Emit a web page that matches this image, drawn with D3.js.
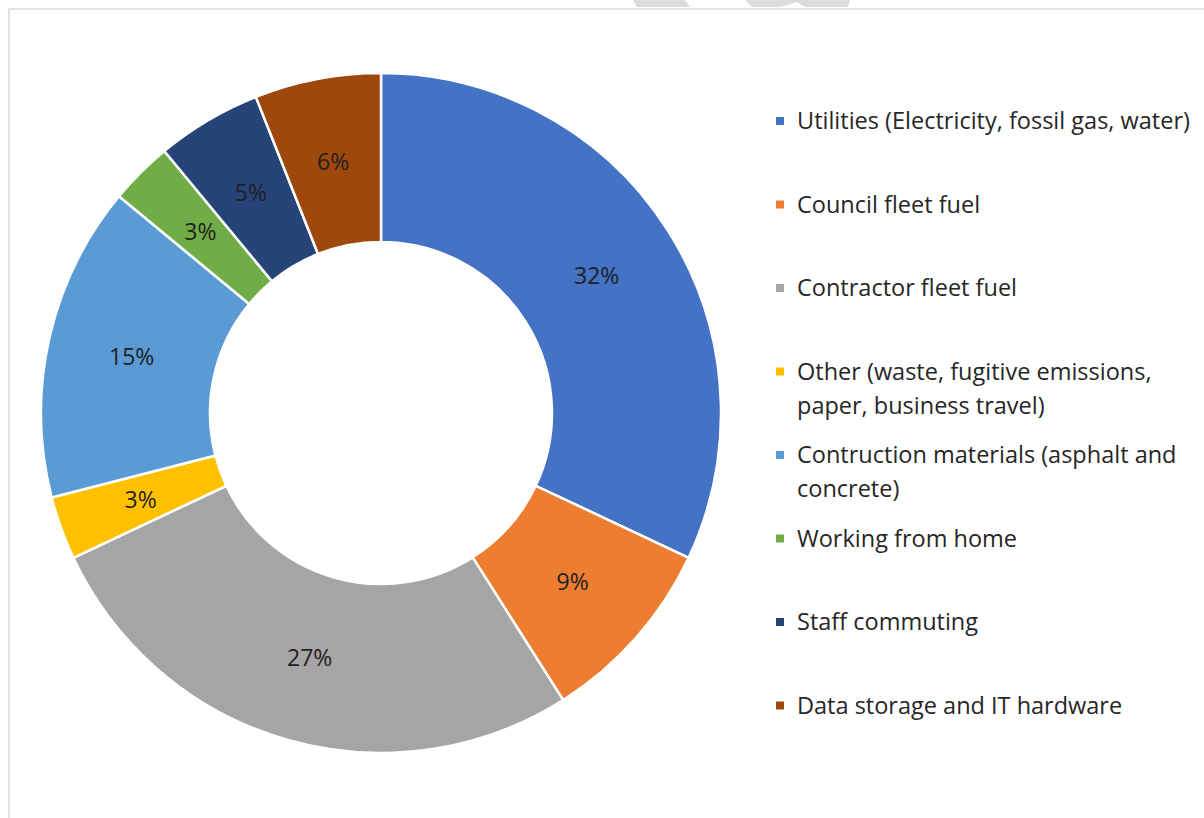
<!DOCTYPE html>
<html>
<head>
<meta charset="utf-8">
<script src="https://cdn.jsdelivr.net/npm/d3@7"></script>
<style>
  body { margin: 0; background: #fff; }
  svg { display: block; font-family: "Open Sans", "Noto Sans", sans-serif; }
</style>
</head>
<body>
<div id="chart"></div>
<script>
// data
const categories = [
  "Utilities (Electricity, fossil gas, water)",
  "Council fleet fuel",
  "Contractor fleet fuel",
  "Other (waste, fugitive emissions, paper, business travel)",
  "Contruction materials (asphalt and concrete)",
  "Working from home",
  "Staff commuting",
  "Data storage and IT hardware"
]
const shares = [32, 9, 27, 3, 15, 3, 5, 6]
const colors = ["#4472C4", "#ED7D31", "#A5A5A5", "#FFC000", "#5B9BD5", "#70AD47", "#264478", "#9E480E"]

const width = 1204, height = 818
const cx = 381, cy = 413, outerR = 340, innerR = 171

const svg = d3.select("#chart")
  .append("svg")
  .attr("width", width)
  .attr("height", height)

// frame of the chart area (only left and top edges visible)
svg.append("path")
  .attr("d", `M9,${height} L9,9 L${width},9`)
  .attr("fill", "none")
  .attr("stroke", "#d9d9d9")
  .attr("stroke-width", 1.5)

// faint watermark bits peeking in at the top
const mark = svg.append("g").attr("fill", "#dcdcdc")
mark.append("path").attr("d", "M633,0 L685,0 L690,7 L637,7 Z")
mark.append("path").attr("d", "M745,0 L850,0 L848,7 L805,7 L797,2 L780,7 L752,7 Z")

// donut
const pie = d3.pie().sort(null).value(d => d)
const arcs = pie(shares)
const arc = d3.arc().innerRadius(innerR).outerRadius(outerR)

const g = svg.append("g").attr("transform", `translate(${cx},${cy})`)

g.selectAll("path.slice")
  .data(arcs)
  .join("path")
  .attr("class", "slice")
  .attr("d", arc)
  .attr("fill", (d, i) => colors[i])
  .attr("stroke", "#fff")
  .attr("stroke-width", 2.5)

g.selectAll("text.pct")
  .data(arcs)
  .join("text")
  .attr("class", "pct")
  .attr("transform", d => `translate(${arc.centroid(d)})`)
  .attr("text-anchor", "middle")
  .attr("dy", "0.35em")
  .attr("fill", "#1f1f1f")
  .style("font-size", "23px")
  .text(d => d.data + "%")

// legend
const legendX = 776, textX = 797, firstY = 121, step = 83.5, lineH = 34, maxW = 420
const legend = svg.append("g")

categories.forEach((name, i) => {
  const y = firstY + i * step
  legend.append("rect")
    .attr("x", legendX)
    .attr("y", y - 4)
    .attr("width", 8)
    .attr("height", 8)
    .attr("fill", colors[i])

  const t = legend.append("text")
    .attr("x", textX)
    .attr("y", y)
    .attr("dy", "0.35em")
    .attr("fill", "#262626")
    .style("font-size", "23.5px")

  // wrap long labels
  const words = name.split(" ")
  let line = [], tspan = t.append("tspan").attr("x", textX)
  words.forEach(w => {
    line.push(w)
    tspan.text(line.join(" "))
    if (tspan.node().getComputedTextLength() > maxW && line.length > 1) {
      line.pop()
      tspan.text(line.join(" "))
      line = [w]
      tspan = t.append("tspan").attr("x", textX).attr("dy", lineH).text(w)
    }
  })
})
</script>
</body>
</html>
